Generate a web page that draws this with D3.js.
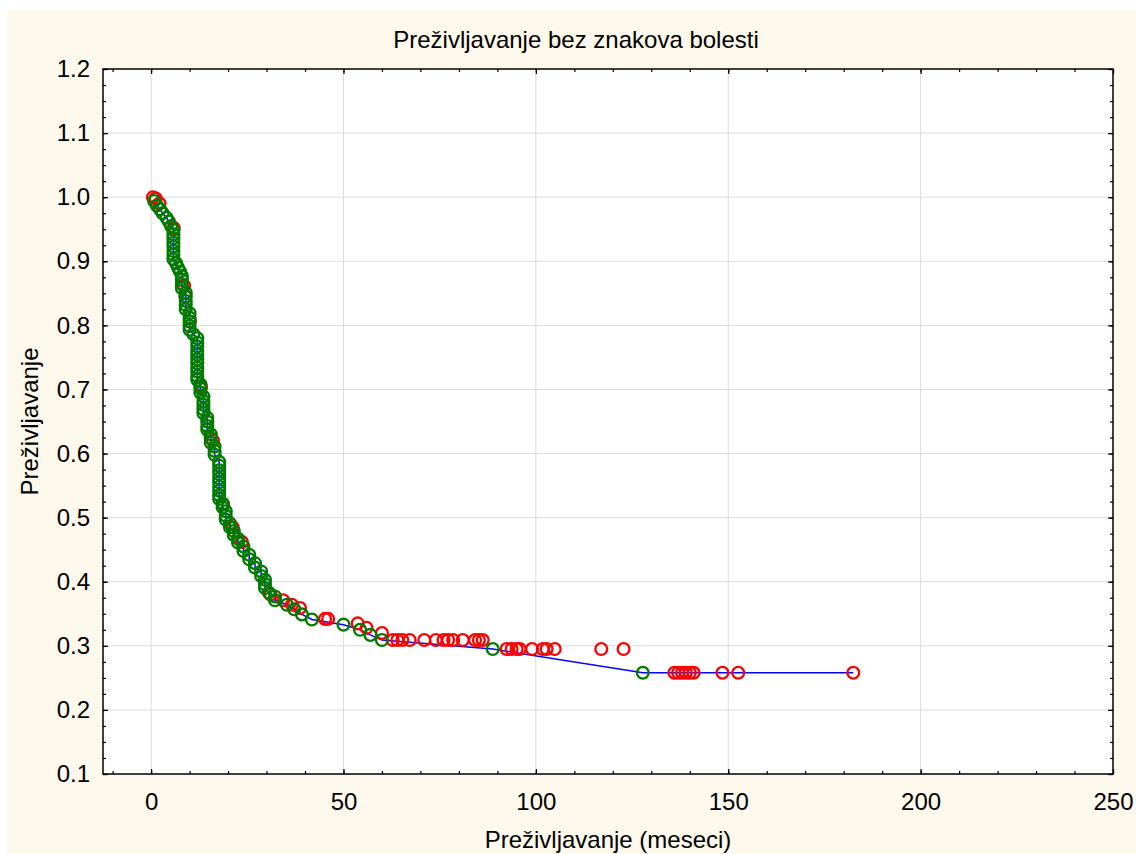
<!DOCTYPE html>
<html>
<head>
<meta charset="utf-8">
<script src="https://cdn.jsdelivr.net/npm/d3@7"></script>
<style>
  body { margin: 0; background: #fff; }
  text { font-family: "Liberation Sans", Arial, sans-serif; fill: #000; }
</style>
</head>
<body>
<div id="chart"></div>
<script>
// Kaplan-Meier style survival plot (Statistica look)

// --- Data ---
// complete cases (green circles), time in months / cumulative proportion surviving
const eventTimes = [
  0.8, 1.5, 2.3, 3.0, 4.0, 4.6, 5.2,
  5.8, 5.8, 5.8, 5.8, 5.8, 5.8, 5.8, 5.8,
  6.5, 7.0, 7.5,
  8.0, 8.0, 8.0, 8.0,
  9.0, 9.0, 9.0, 9.0, 9.0,
  10.0, 10.0, 10.0, 10.0, 10.0, 11.0,
  12.0, 12.0, 12.0, 12.0, 12.0, 12.0, 12.0, 12.0, 12.0, 12.0, 12.0,
  12.8, 12.8, 12.8,
  13.6, 13.6, 13.6, 13.6, 13.6,
  14.6, 14.6, 14.6, 14.6,
  15.5, 15.5, 15.5,
  16.5, 16.5, 16.5,
  17.7, 17.7, 17.7, 17.7, 17.7, 17.7, 17.7, 17.7, 17.7, 17.7,
  18.6, 18.6, 19.4, 19.4, 19.4, 20.5, 20.5, 21.5, 21.5, 22.6, 22.6,
  24.0, 24.0, 25.5, 25.5, 27.0, 27.0, 28.6, 28.6,
  29.6, 29.6, 29.6, 30.6, 32.2, 32.2,
  35.3, 37.2, 39.2, 41.8, 50.0, 54.3, 57.0, 60.0, 88.8, 127.8
];
const eventSurv = [
  0.994, 0.987, 0.981, 0.975, 0.968, 0.962, 0.955,
  0.949, 0.942, 0.936, 0.929, 0.923, 0.916, 0.910, 0.903,
  0.897, 0.890, 0.884,
  0.877, 0.871, 0.864, 0.858,
  0.851, 0.845, 0.838, 0.832, 0.825,
  0.819, 0.812, 0.806, 0.799, 0.793, 0.786,
  0.780, 0.773, 0.767, 0.760, 0.754, 0.747, 0.741, 0.734, 0.728, 0.721, 0.715,
  0.708, 0.702, 0.695,
  0.689, 0.682, 0.676, 0.669, 0.663,
  0.656, 0.650, 0.643, 0.637,
  0.630, 0.624, 0.617,
  0.611, 0.604, 0.598,
  0.587, 0.581, 0.574, 0.568, 0.561, 0.555, 0.548, 0.542, 0.535, 0.529,
  0.522, 0.516, 0.510, 0.503, 0.497, 0.491, 0.485, 0.479, 0.473, 0.467, 0.461,
  0.455, 0.448, 0.442, 0.435, 0.429, 0.422, 0.416, 0.409,
  0.403, 0.396, 0.390, 0.383, 0.377, 0.371,
  0.364, 0.357, 0.349, 0.341, 0.333, 0.325, 0.317, 0.309, 0.295, 0.258
];

// censored cases (red circles)
const censTimes = [
  0.5, 1.2, 2.2, 5.9, 8.6, 8.9, 10.1, 13.0, 16.1, 18.7, 21.2, 23.6,
  31.0, 34.3, 36.6, 38.7, 45.2, 46.0, 53.7, 56.0, 60.0,
  62.8, 64.0, 65.3, 67.2, 71.0, 74.0, 76.0, 77.2, 78.5, 81.0, 84.2, 85.2, 86.2,
  92.4, 93.7, 95.0, 95.8, 99.0, 101.8, 102.8, 104.9, 117.0, 122.8,
  136.0, 137.0, 138.0, 139.0, 140.0, 141.0, 148.5, 152.6, 182.5
];
const censSurv = [
  1.000, 0.998, 0.990, 0.952, 0.862, 0.845, 0.806, 0.704, 0.620, 0.521, 0.485, 0.462,
  0.380, 0.371, 0.364, 0.359, 0.342, 0.342, 0.335, 0.328, 0.320,
  0.309, 0.309, 0.309, 0.309, 0.309, 0.309, 0.309, 0.309, 0.309, 0.309, 0.309, 0.309, 0.309,
  0.295, 0.295, 0.295, 0.295, 0.295, 0.295, 0.295, 0.295, 0.295, 0.295,
  0.258, 0.258, 0.258, 0.258, 0.258, 0.258, 0.258, 0.258, 0.258
];

const xMajor = [0, 50, 100, 150, 200, 250];
const yMajor = [0.1, 0.2, 0.3, 0.4, 0.5, 0.6, 0.7, 0.8, 0.9, 1.0, 1.1, 1.2];

const titleText = "Preživljavanje bez znakova bolesti";
const xLabel = "Preživljavanje (meseci)";
const yLabel = "Preživljavanje";

// --- Layout ---
const width = 1136, height = 854;
const plot = { left: 103, top: 69, right: 1113, bottom: 774 };
const fontSize = 24;

const svg = d3.select("#chart").append("svg")
  .attr("width", width)
  .attr("height", height);

// cream frame background
svg.append("rect")
  .attr("x", 7).attr("y", 10)
  .attr("width", width - 7).attr("height", height - 10)
  .attr("fill", "#fdf8ec");

svg.append("rect")
  .attr("x", plot.left).attr("y", plot.top)
  .attr("width", plot.right - plot.left).attr("height", plot.bottom - plot.top)
  .attr("fill", "#fff");

const x = d3.scaleLinear().domain([-12.5, 250]).range([plot.left, plot.right]);
const y = d3.scaleLinear().domain([0.1, 1.2]).range([plot.bottom, plot.top]);

// gridlines
const grid = svg.append("g").attr("class", "grid");
grid.selectAll(".vgrid")
  .data(xMajor.filter(d => d > -12.5 && d < 250))
  .enter().append("line")
  .attr("x1", d => x(d)).attr("x2", d => x(d))
  .attr("y1", plot.top).attr("y2", plot.bottom)
  .attr("stroke", "#dcdcdc").attr("stroke-width", 1);
grid.selectAll(".hgrid")
  .data(yMajor.filter(d => d > 0.1 && d < 1.2))
  .enter().append("line")
  .attr("x1", plot.left).attr("x2", plot.right)
  .attr("y1", d => y(d)).attr("y2", d => y(d))
  .attr("stroke", "#dcdcdc").attr("stroke-width", 1);

// ticks (inside) on all four sides
const xMinor = d3.range(-10, 251, 10);
const yMinor = d3.range(0, 45).map(i => 0.1 + i * 0.025);

function styleAxis(g) {
  g.select(".domain").remove();
  g.selectAll(".tick line").attr("stroke", "#000").attr("stroke-width", 1.2);
  g.selectAll(".tick text").style("font-size", fontSize + "px").attr("fill", "#000");
}

svg.append("g").attr("transform", `translate(0,${plot.bottom})`)
  .call(d3.axisBottom(x).tickValues(xMinor).tickSize(-3).tickFormat(""))
  .call(styleAxis);
svg.append("g").attr("transform", `translate(0,${plot.bottom})`)
  .call(d3.axisBottom(x).tickValues(xMajor).tickSize(-5).tickPadding(19).tickFormat(d3.format("d")))
  .call(styleAxis);
svg.append("g").attr("transform", `translate(0,${plot.top})`)
  .call(d3.axisTop(x).tickValues(xMinor).tickSize(-3).tickFormat(""))
  .call(styleAxis);
svg.append("g").attr("transform", `translate(0,${plot.top})`)
  .call(d3.axisTop(x).tickValues(xMajor).tickSize(-5).tickFormat(""))
  .call(styleAxis);

svg.append("g").attr("transform", `translate(${plot.left},0)`)
  .call(d3.axisLeft(y).tickValues(yMinor).tickSize(-3).tickFormat(""))
  .call(styleAxis);
svg.append("g").attr("transform", `translate(${plot.left},0)`)
  .call(d3.axisLeft(y).tickValues(yMajor).tickSize(-5).tickPadding(13).tickFormat(d3.format(".1f")))
  .call(styleAxis);
svg.append("g").attr("transform", `translate(${plot.right},0)`)
  .call(d3.axisRight(y).tickValues(yMinor).tickSize(-3).tickFormat(""))
  .call(styleAxis);
svg.append("g").attr("transform", `translate(${plot.right},0)`)
  .call(d3.axisRight(y).tickValues(yMajor).tickSize(-5).tickFormat(""))
  .call(styleAxis);

// --- Survival line (through complete cases, ends at last censored) ---
const linePts = eventTimes.map((t, i) => [t, eventSurv[i]]);
linePts.push([censTimes[censTimes.length - 1], censSurv[censSurv.length - 1]]);

const marks = svg.append("g").attr("class", "marks");
marks.append("path")
  .attr("d", d3.line().x(d => x(d[0])).y(d => y(d[1]))(linePts))
  .attr("fill", "none")
  .attr("stroke", "#0000ff")
  .attr("stroke-width", 1.5);

// censored circles
marks.selectAll(".cens")
  .data(censTimes.map((t, i) => [t, censSurv[i]]))
  .enter().append("circle")
  .attr("cx", d => x(d[0])).attr("cy", d => y(d[1]))
  .attr("r", 5.9)
  .attr("fill", "none")
  .attr("stroke", "#ff0000")
  .attr("stroke-width", 2.3);

// complete circles
marks.selectAll(".event")
  .data(linePts.slice(0, eventTimes.length))
  .enter().append("circle")
  .attr("cx", d => x(d[0])).attr("cy", d => y(d[1]))
  .attr("r", 5.9)
  .attr("fill", "none")
  .attr("stroke", "#007a00")
  .attr("stroke-width", 2.3);

// frame
svg.append("rect")
  .attr("x", plot.left).attr("y", plot.top)
  .attr("width", plot.right - plot.left).attr("height", plot.bottom - plot.top)
  .attr("fill", "none")
  .attr("stroke", "#000")
  .attr("stroke-width", 1.5);

// --- Texts ---
svg.append("text")
  .attr("x", 576).attr("y", 48)
  .attr("text-anchor", "middle")
  .style("font-size", "24px")
  .text(titleText);

svg.append("text")
  .attr("x", (plot.left + plot.right) / 2).attr("y", 848)
  .attr("text-anchor", "middle")
  .style("font-size", fontSize + "px")
  .text(xLabel);

svg.append("text")
  .attr("transform", `translate(38,${(plot.top + plot.bottom) / 2}) rotate(-90)`)
  .attr("text-anchor", "middle")
  .style("font-size", fontSize + "px")
  .text(yLabel);
</script>
</body>
</html>
